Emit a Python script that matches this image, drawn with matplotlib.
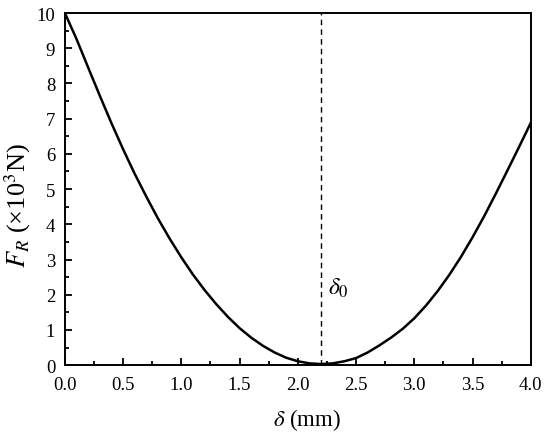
import matplotlib.pyplot as plt
from matplotlib.ticker import MultipleLocator

plt.rcParams['font.family'] = ['Liberation Serif', 'DejaVu Serif']
plt.rcParams['mathtext.fontset'] = 'stix'

# displacement (mm) and resultant force (x10^3 N)
delta = [0.0, 0.1, 0.2, 0.3, 0.4, 0.5, 0.6, 0.7, 0.8, 0.9,
         1.0, 1.1, 1.2, 1.3, 1.4, 1.5, 1.6, 1.7, 1.8, 1.9,
         2.0, 2.1, 2.2, 2.3, 2.4, 2.5, 2.6, 2.7, 2.8, 2.9,
         3.0, 3.1, 3.2, 3.3, 3.4, 3.5, 3.6, 3.7, 3.8, 3.9, 4.0]
force = [10.0, 9.26, 8.45, 7.65, 6.87, 6.13, 5.43, 4.78, 4.16, 3.59,
         3.06, 2.57, 2.13, 1.73, 1.37, 1.05, 0.78, 0.55, 0.36, 0.21,
         0.11, 0.05, 0.03, 0.05, 0.11, 0.20, 0.36, 0.56, 0.78, 1.03,
         1.33, 1.69, 2.10, 2.56, 3.07, 3.63, 4.23, 4.87, 5.53, 6.20, 6.88]
delta0 = 2.2

fig = plt.figure(figsize=(5.5, 4.39), dpi=100)
ax = fig.add_axes([0.118, 0.166, 0.847, 0.802])

ax.plot(delta, force, color='black', lw=1.8)
ax.axvline(delta0, color='black', lw=1.0, ls=(0, (4, 3)))
ax.text(delta0 + 0.06, 2.2, r'$\delta_0$', fontsize=17, ha='left', va='center')

ax.set_xlim(0, 4)
ax.set_ylim(0, 10)
ax.xaxis.set_major_locator(MultipleLocator(0.5))
ax.xaxis.set_minor_locator(MultipleLocator(0.25))
ax.yaxis.set_major_locator(MultipleLocator(1))
ax.yaxis.set_minor_locator(MultipleLocator(0.5))
ax.xaxis.set_major_formatter(plt.FuncFormatter(lambda v, p: f'{v:.1f}'))
ax.tick_params(which='both', direction='in', top=False, right=False, width=1.3, labelsize=13.5)
ax.tick_params(which='major', length=5)
ax.tick_params(which='minor', length=3)
ax.tick_params(axis='x', which='major', pad=8)
ax.tick_params(axis='y', which='major', pad=7)
for s in ax.spines.values():
    s.set_linewidth(1.4)

ax.set_xlabel(r'$\delta$ (mm)', fontsize=16.5)
ax.xaxis.set_label_coords(0.52, -0.115)
ax.set_ylabel(r'$F_R$ (×10$^3$N)', fontsize=19)
ax.yaxis.set_label_coords(-0.069, 0.457)

fig.savefig('out.png', dpi=100)
